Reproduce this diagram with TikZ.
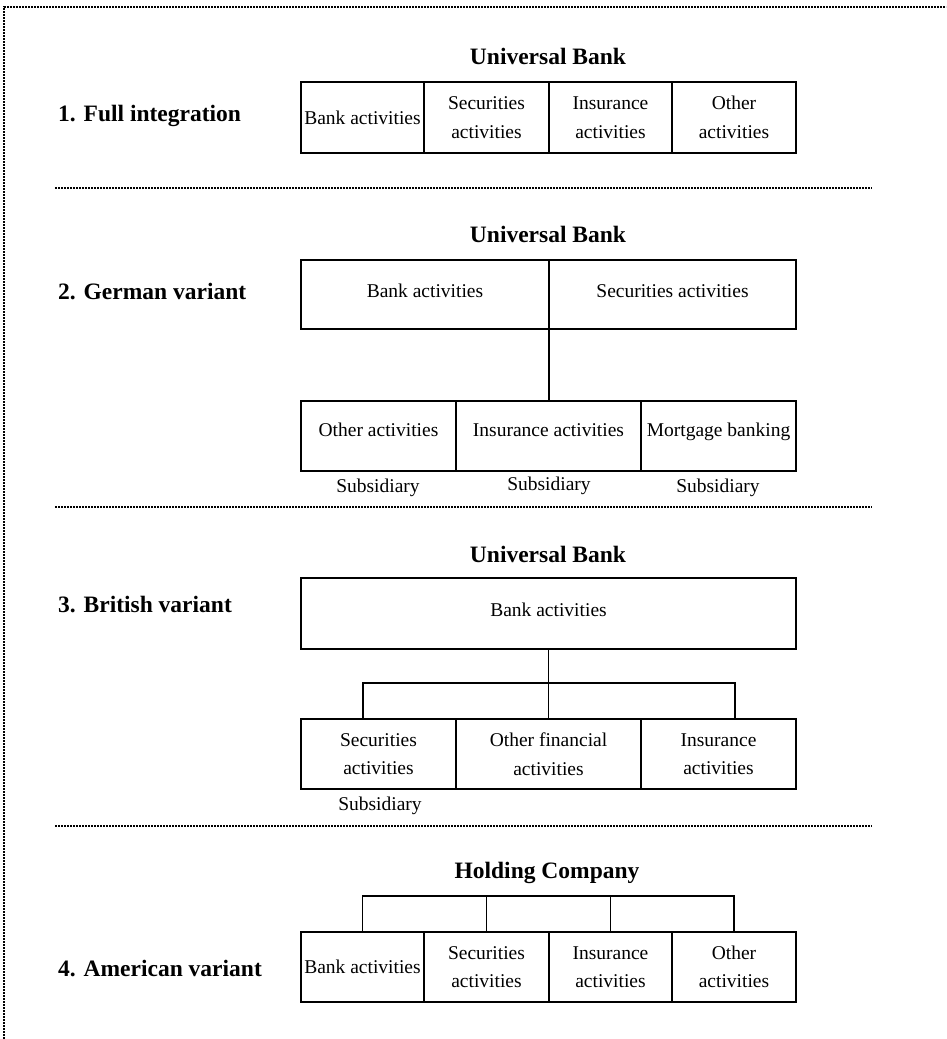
\documentclass[tikz,border=0pt]{standalone}
\usepackage{fontspec}
\setmainfont{Liberation Serif}
\newcommand\bxfont{\fontsize{19.5}{28.5}\selectfont}
\newcommand\hdfont{\fontsize{23.5}{28}\selectfont\bfseries}
\begin{document}
\begin{tikzpicture}[x=1pt,y=-1pt,
  box/.style={draw, line width=1.9pt, inner sep=0pt, outer sep=0pt, align=center, font=\bxfont},
  head/.style={font=\hdfont, inner sep=0pt},
  lbl/.style={anchor=west, font=\hdfont, inner sep=0pt},
  sub/.style={font=\bxfont, inner sep=0pt},
  sepline/.style={line width=1.5pt, dash pattern=on 2pt off 1pt},
  conn/.style={line width=1.9pt}]
\useasboundingbox (0,0) rectangle (946,1039);
% frame
\coordinate (fa) at (4,1039);
\coordinate (fb) at (4,7);
\coordinate (fc) at (946,7);
\draw[sepline] (fa) -- (fb) -- (fc);
% separators
\coordinate (s1a) at (55,188); \coordinate (s1b) at (872,188);
\coordinate (s2a) at (55,507); \coordinate (s2b) at (872,507);
\coordinate (s3a) at (55,826); \coordinate (s3b) at (872,826);
\draw[sepline] (s1a) -- (s1b);
\draw[sepline] (s2a) -- (s2b);
\draw[sepline] (s3a) -- (s3b);

% ---- 1. Full integration
\node[lbl] (l1) at (58,116) {1. Full integration};
\node[head] (h1) at (548,56) {Universal Bank};
\node[box, minimum width=123pt, minimum height=71pt] (f1) at (362.5,117.5) {Bank activities};
\node[box, minimum width=125pt, minimum height=71pt] (f2) at (486.5,117.5) {Securities\\activities};
\node[box, minimum width=123pt, minimum height=71pt] (f3) at (610.5,117.5) {Insurance\\activities};
\node[box, minimum width=124pt, minimum height=71pt] (f4) at (734,117.5) {Other\\activities};

% ---- 2. German variant
\node[lbl] (l2) at (58,292) {2. German variant};
\node[head] (h2) at (548,234) {Universal Bank};
\node[box, text depth=7pt, minimum width=248pt, minimum height=69pt] (g1) at (425,294.5) {Bank activities};
\node[box, text depth=7pt, minimum width=247pt, minimum height=69pt] (g2) at (672.5,294.5) {Securities activities};
\node[box, text depth=12pt, minimum width=155pt, minimum height=70pt] (g3) at (378.5,436) {Other activities};
\node[box, text depth=12pt, minimum width=185pt, minimum height=70pt] (g4) at (548.5,436) {Insurance activities};
\node[box, text depth=12pt, minimum width=155pt, minimum height=70pt] (g5) at (718.5,436) {Mortgage banking};
\draw[conn] (g1.south east) -- (g1.south east |- g4.north);
\node[sub] (gs1) at (378,488) {Subsidiary};
\node[sub] (gs2) at (549,486) {Subsidiary};
\node[sub] (gs3) at (718,488) {Subsidiary};

% ---- 3. British variant
\node[lbl] (l3) at (58,605) {3. British variant};
\node[head] (h3) at (548,554) {Universal Bank};
\node[box, text depth=8pt, minimum width=495pt, minimum height=71pt] (b0) at (548.5,613.5) {Bank activities};
\node[box, minimum width=155pt, minimum height=70pt] (b1) at (378.5,754) {Securities\\activities};
\node[box, minimum width=185pt, minimum height=70pt] (b2) at (548.5,754) {Other financial\\activities};
\node[box, minimum width=155pt, minimum height=70pt] (b3) at (718.5,754) {Insurance\\activities};
\coordinate (bj) at (548.5,683);
\coordinate (bl) at (363,719);
\coordinate (br) at (735,719);
\draw[conn] (b0.south) -- (bj);
\draw[conn] (bl) |- (bj) -| (br);
\draw[conn] (bj) -- (b2.north);
\node[sub] (bs1) at (380,806) {Subsidiary};

% ---- 4. American variant
\node[lbl] (l4) at (58,969) {4. American variant};
\node[head] (h4) at (547,873) {Holding Company};
\node[box, minimum width=123pt, minimum height=70pt] (a1) at (362.5,967) {Bank activities};
\node[box, minimum width=125pt, minimum height=70pt] (a2) at (486.5,967) {Securities\\activities};
\node[box, minimum width=123pt, minimum height=70pt] (a3) at (610.5,967) {Insurance\\activities};
\node[box, minimum width=124pt, minimum height=70pt] (a4) at (734,967) {Other\\activities};
\coordinate (bus) at (0,896);
\draw[conn] (a1.north) |- (bus -| a4.north) -- (a4.north);
\draw[conn] (a2.north) -- (a2.north |- bus);
\draw[conn] (a3.north) -- (a3.north |- bus);
\end{tikzpicture}
\end{document}
